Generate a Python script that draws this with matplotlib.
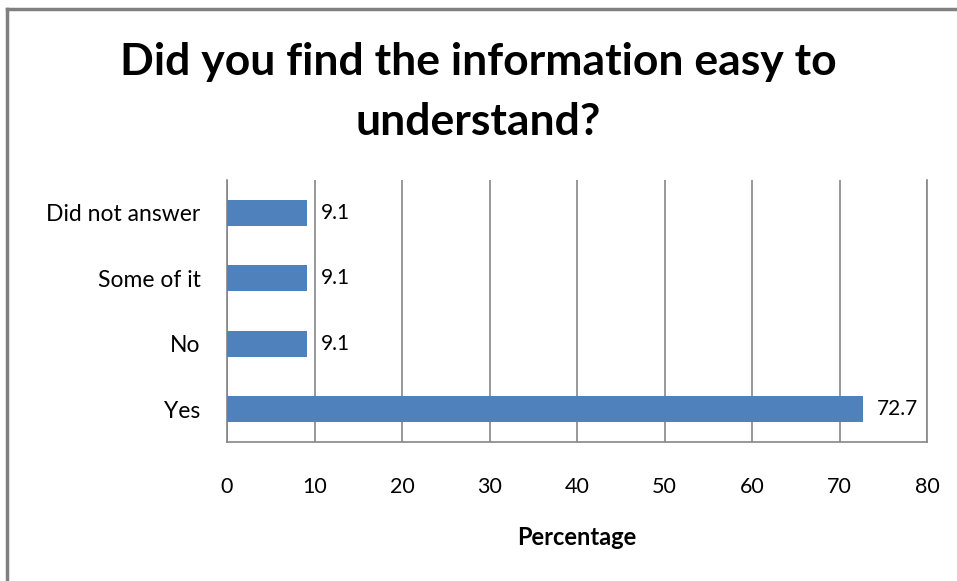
import matplotlib.pyplot as plt

categories = ['Yes', 'No', 'Some of it', 'Did not answer']
percentages = [72.7, 9.1, 9.1, 9.1]
x_ticks = [0, 10, 20, 30, 40, 50, 60, 70, 80]

plt.rcParams['font.family'] = ['Lato', 'DejaVu Sans']

fig = plt.figure(figsize=(9.57, 5.81), dpi=100)
ax = fig.add_axes([0.2372, 0.2392, 0.7315, 0.4510])

grid_color = '#868686'
bar_color = '#4F81BD'

ax.barh(range(len(categories)), percentages, height=0.4, color=bar_color, zorder=3)
for i, v in enumerate(percentages):
    ax.text(v + 1.6, i, f'{v:.1f}', va='center', ha='left', fontsize=15, color='black')

ax.set_xlim(0, 80)
ax.set_ylim(-0.5, len(categories) - 0.5)
ax.set_xticks(x_ticks)
ax.set_yticks(range(len(categories)))
ax.set_yticklabels(categories)
ax.tick_params(axis='x', length=0, labelsize=15.5, pad=25)
ax.tick_params(axis='y', length=0, labelsize=16.5, pad=19)

ax.xaxis.grid(True, color=grid_color, linewidth=1.2, zorder=0)
ax.spines['top'].set_visible(False)
for side in ['left', 'bottom', 'right']:
    ax.spines[side].set_color(grid_color)
    ax.spines[side].set_linewidth(1.2)

ax.set_xlabel('Percentage', fontsize=17, fontweight='bold', labelpad=21)

fig.text(0.5, 0.8417, 'Did you find the information easy to\nunderstand?',
         ha='center', va='center', fontsize=32, fontweight='bold',
         linespacing=1.58)

# outer chart frame, only top and left edges inside the canvas
fig.add_artist(plt.Line2D([0.0078, 1.0], [0.9845, 0.9845], color='#808080', linewidth=2.5,
                          transform=fig.transFigure))
fig.add_artist(plt.Line2D([0.0078, 0.0078], [0.0, 0.9845], color='#808080', linewidth=2.5,
                          transform=fig.transFigure))

fig.savefig('out.png', dpi=100)
